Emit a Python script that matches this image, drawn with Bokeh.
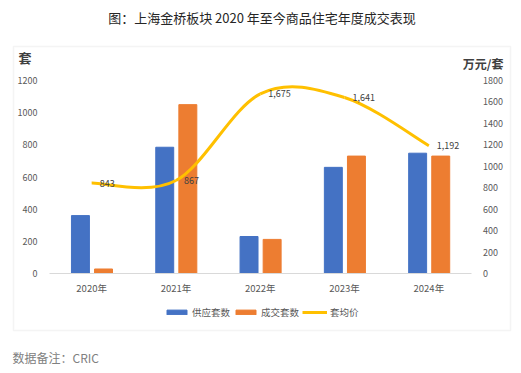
from bokeh.plotting import figure
from bokeh.models import (Range1d, LinearAxis, FixedTicker, ColumnDataSource, LabelSet,
                          Label, BoxAnnotation, Legend, LegendItem)
from bokeh.core.properties import value
from bokeh.transform import dodge
from bokeh.embed import file_html
from bokeh.resources import INLINE

# ---- data ----
years = ["2020年", "2021年", "2022年", "2023年", "2024年"]
supply = [360, 785, 230, 660, 748]        # 供应套数
deals = [28, 1050, 212, 730, 730]         # 成交套数
avg_price = [843, 867, 1675, 1641, 1192]  # 套均价 (万元/套)
left_ticks = [0, 200, 400, 600, 800, 1000, 1200]
right_ticks = [0, 200, 400, 600, 800, 1000, 1200, 1400, 1600, 1800]

# ---- layout (pixels) ----
W, H = 521, 373
PL, PR, PT, PB = 49, 470.5, 80, 273     # plot area edges on the canvas
LMAX, RMAX = left_ticks[-1], right_ticks[-1]

CJK = "Noto Sans CJK SC"
BLUE, ORANGE, GOLD = "#4472C4", "#ED7D31", "#FFC000"

n = len(years)
xs = list(range(n))
ux = (PR - PL) / n                       # px per category
lpx = (PB - PT) / LMAX                   # px per left unit
rpx = (PB - PT) / RMAX                   # px per right unit

src = ColumnDataSource(dict(x=xs, supply=supply, deals=deals, price=avg_price,
                            plabel=[f"{v:,}" for v in avg_price]))

p = figure(width=W, height=H,
           x_range=Range1d(-0.5 - PL / ux, n - 0.5 + (W - PR) / ux),
           y_range=Range1d(-(H - PB) / lpx, LMAX + PT / lpx),
           output_backend="svg", toolbar_location=None, title=None,
           min_border=0, min_border_left=0, min_border_right=0,
           min_border_top=0, min_border_bottom=0, x_axis_type=None, y_axis_type=None)
p.extra_y_ranges = {"right": Range1d(-(H - PB) / rpx, RMAX + PT / rpx)}
p.outline_line_color = None
p.background_fill_color = "white"
p.border_fill_color = "white"

ly = LinearAxis(ticker=FixedTicker(ticks=left_ticks), fixed_location=-0.5,
                bounds=(0, LMAX))
ry = LinearAxis(ticker=FixedTicker(ticks=right_ticks), y_range_name="right",
                fixed_location=n - 0.5, bounds=(0, RMAX))
for ax in (ly, ry):
    ax.axis_line_color = None
    ax.major_tick_line_color = None
    ax.minor_tick_line_color = None
    ax.major_label_text_font = CJK
    ax.major_label_text_font_size = "9px"
    ax.major_label_text_color = "#595959"
    ax.major_label_standoff = 6
p.add_layout(ly, "left")
p.add_layout(ry, "right")

bx = LinearAxis(ticker=FixedTicker(ticks=xs), fixed_location=0, bounds=(-0.5, n - 0.5))
bx.major_label_overrides = {i: y for i, y in zip(xs, years)}
bx.axis_line_color = "#d9d9d9"
bx.major_tick_line_color = None
bx.minor_tick_line_color = None
bx.major_label_text_font = CJK
bx.major_label_text_font_size = "9.5px"
bx.major_label_text_color = "#595959"
bx.major_label_standoff = 1
p.add_layout(bx, "below")

r_sup = p.vbar(x=dodge("x", -0.133, range=p.x_range), top="supply", width=0.213,
               source=src, color=BLUE)
r_deal = p.vbar(x=dodge("x", 0.141, range=p.x_range), top="deals", width=0.213,
                source=src, color=ORANGE)

# smoothed line (Catmull-Rom -> cubic Bezier) through the price points
pts = list(zip(xs, avg_price))
x0, y0, x1, y1, cx0, cy0, cx1, cy1 = [], [], [], [], [], [], [], []
for i in range(n - 1):
    pm, pa, pb, pn = pts[max(i - 1, 0)], pts[i], pts[i + 1], pts[min(i + 2, n - 1)]
    x0.append(pa[0]); y0.append(pa[1]); x1.append(pb[0]); y1.append(pb[1])
    cx0.append(pa[0] + (pb[0] - pm[0]) / 6); cy0.append(pa[1] + (pb[1] - pm[1]) / 6)
    cx1.append(pb[0] - (pn[0] - pa[0]) / 6); cy1.append(pb[1] - (pn[1] - pa[1]) / 6)
r_line = p.bezier(x0=x0, y0=y0, x1=x1, y1=y1, cx0=cx0, cy0=cy0, cx1=cx1, cy1=cy1,
                  line_color=GOLD, line_width=3, y_range_name="right")

p.add_layout(LabelSet(x="x", y="price", text="plabel", source=src, y_range_name="right",
                      x_offset=8, text_baseline="middle", text_font=value(CJK),
                      text_font_size="9px", text_color="#404040"))

# screen-placed chrome (x from left, y from bottom of the canvas)
p.add_layout(BoxAnnotation(left=13, right=510, top=H - 46, bottom=H - 330,
                           left_units="screen", right_units="screen",
                           top_units="screen", bottom_units="screen",
                           fill_alpha=0, line_color="#d9d9d9", line_width=1.5,
                           level="underlay"))
p.add_layout(Label(x=261.5, y=H - 17, x_units="screen", y_units="screen",
                   text="图：上海金桥板块 2020 年至今商品住宅年度成交表现",
                   text_align="center", text_baseline="middle", text_font=CJK,
                   text_font_size="13px", text_color="#262626"))
p.add_layout(Label(x=18, y=H - 57, x_units="screen", y_units="screen", text="套",
                   text_baseline="middle", text_font=CJK, text_font_size="13px",
                   text_font_style="bold", text_color="#404040"))
p.add_layout(Label(x=503, y=H - 63, x_units="screen", y_units="screen", text="万元/套",
                   text_align="right", text_baseline="middle", text_font=CJK,
                   text_font_size="12px", text_font_style="bold", text_color="#404040"))
p.add_layout(Label(x=12, y=H - 357, x_units="screen", y_units="screen", text="数据备注：CRIC",
                   text_baseline="middle", text_font=CJK, text_font_size="12px",
                   text_color="#808080"))

legend = Legend(items=[LegendItem(label="供应套数", renderers=[r_sup]),
                       LegendItem(label="成交套数", renderers=[r_deal]),
                       LegendItem(label="套均价", renderers=[r_line])],
                location=(164, H - 319), orientation="horizontal",
                glyph_width=25, glyph_height=6, label_height=6, label_width=0,
                label_standoff=3, spacing=3, padding=0, margin=0,
                border_line_color=None, background_fill_alpha=0,
                label_text_font=CJK, label_text_font_size="9.5px",
                label_text_color="#595959", label_text_baseline="middle")
p.add_layout(legend, "center")

open("out.html", "w").write(file_html(p, INLINE))
